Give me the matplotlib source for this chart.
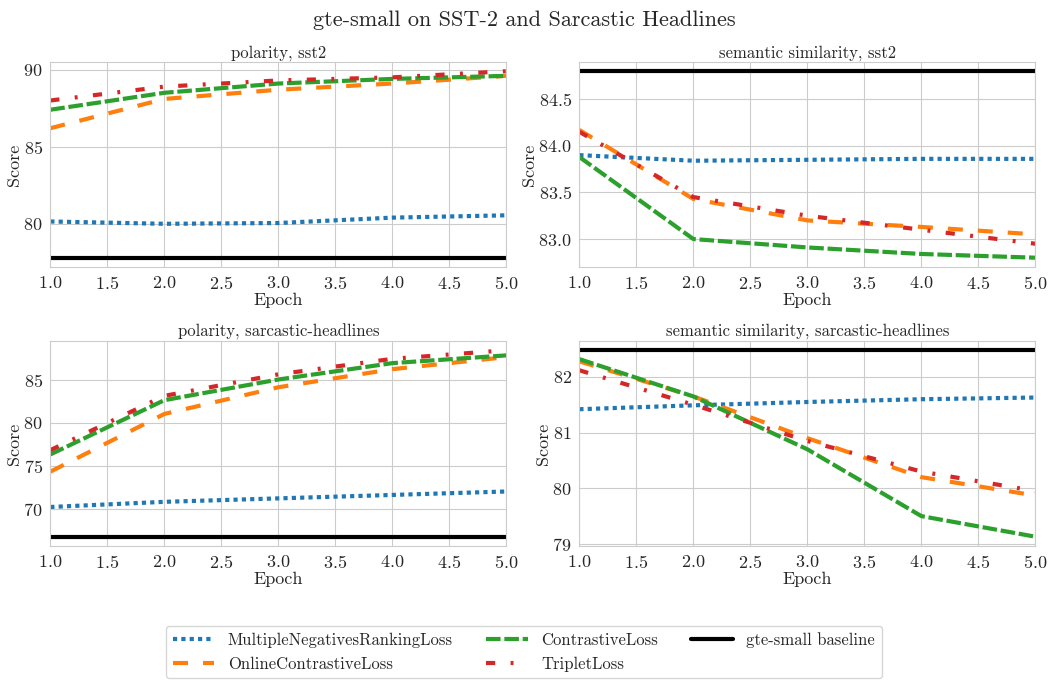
import matplotlib.pyplot as plt
import seaborn as sns
import numpy as np

# dados
epochs = [1, 2, 3, 4, 5]

panel_titles = ['polarity, sst2', 'semantic similarity, sst2',
                'polarity, sarcastic-headlines', 'semantic similarity, sarcastic-headlines']

mnrl = [
    [80.15, 80.0, 80.05, 80.4, 80.55],
    [83.9, 83.84, 83.85, 83.86, 83.86],
    [70.2, 70.8, 71.2, 71.6, 72.0],
    [81.42, 81.49, 81.55, 81.6, 81.63],
]
online_contrastive = [
    [86.2, 88.1, 88.7, 89.1, 89.6],
    [84.17, 83.43, 83.2, 83.13, 83.05],
    [74.3, 81.0, 84.1, 86.2, 87.6],
    [82.28, 81.65, 80.9, 80.2, 79.87],
]
contrastive = [
    [87.4, 88.5, 89.1, 89.4, 89.6],
    [83.88, 83.0, 82.91, 82.84, 82.8],
    [76.3, 82.6, 85.0, 86.9, 87.8],
    [82.32, 81.65, 80.7, 79.5, 79.13],
]
triplet = [
    [88.0, 88.9, 89.3, 89.5, 89.9],
    [84.15, 83.45, 83.25, 83.1, 82.95],
    [76.8, 83.1, 85.6, 87.4, 88.4],
    [82.12, 81.5, 80.85, 80.3, 79.95],
]
baseline = [77.8, 84.8, 66.75, 82.48]

sns.set_style('whitegrid')
plt.rcParams['font.family'] = ['cmr10', 'DejaVu Serif']
plt.rcParams['mathtext.fontset'] = 'cm'
plt.rcParams['axes.formatter.use_mathtext'] = True
plt.rcParams['axes.unicode_minus'] = False

fig, axes = plt.subplots(2, 2, figsize=(10.48, 6.8), dpi=100)
fig.subplots_adjust(left=0.048, right=0.988, top=0.909, bottom=0.197,
                    wspace=0.16, hspace=0.36)

lw = 3
for i, ax in enumerate(axes.flat):
    ax.plot(epochs, mnrl[i], color='C0', linestyle=(0, (1, 1)), linewidth=lw,
            label='MultipleNegativesRankingLoss')
    ax.plot(epochs, online_contrastive[i], color='C1', linestyle=(0, (3.6, 3.6)), linewidth=lw,
            label='OnlineContrastiveLoss')
    ax.plot(epochs, contrastive[i], color='C2', linestyle=(0, (3.5, 0.9)), linewidth=lw,
            label='ContrastiveLoss')
    ax.plot(epochs, triplet[i], color='C3', linestyle=(0, (2.2, 3.7, 0.7, 3.7)), linewidth=lw,
            label='TripletLoss')
    ax.axhline(baseline[i], color='black', linewidth=lw, label='gte-small baseline')
    ax.set_xlim(1, 5)
    ax.set_title(panel_titles[i], fontsize=12, pad=3)
    ax.set_xlabel('Epoch', fontsize=13, labelpad=1)
    ax.set_ylabel('Score', fontsize=13, labelpad=1)
    ax.tick_params(labelsize=13, pad=2)

fig.suptitle('gte-small on SST-2 and Sarcastic Headlines', fontsize=16, y=0.985)

handles, labels = axes[0, 0].get_legend_handles_labels()
fig.legend(handles, labels, loc='lower center', ncol=3, fontsize=12,
           bbox_to_anchor=(0.5, -0.01), frameon=True, handlelength=2.5,
           columnspacing=2.0)

plt.savefig('out.png', dpi=100)
